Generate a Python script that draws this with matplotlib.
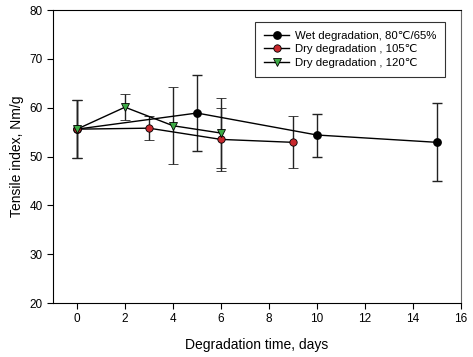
import matplotlib.pyplot as plt

plt.rcParams['font.family'] = ['Liberation Sans', 'DejaVu Sans']

# data
wet_days = [0, 5, 10, 15]
wet_val = [55.6, 58.9, 54.4, 52.9]
wet_err = [5.9, 7.7, 4.4, 8.0]

dry105_days = [0, 3, 6, 9]
dry105_val = [55.6, 55.8, 53.5, 52.9]
dry105_err = [5.9, 2.4, 6.4, 5.3]

dry120_days = [0, 2, 4, 6]
dry120_val = [55.6, 60.1, 56.3, 54.8]
dry120_err = [5.9, 2.6, 7.9, 7.2]

fig = plt.figure(figsize=(4.73, 3.57), dpi=100)
ax = fig.add_axes([53 / 473, 54 / 357, 408 / 473, 293 / 357])

e1 = ax.errorbar(wet_days, wet_val, yerr=wet_err, color='black', marker='o', ms=5.3,
                 mfc='black', mec='black', lw=1, capsize=3.5, elinewidth=1, ecolor='#222222')
e2 = ax.errorbar(dry105_days, dry105_val, yerr=dry105_err, color='black', marker='o', ms=5.3,
                 mfc='#c8282d', mec='black', mew=0.6, lw=1, capsize=3.5, elinewidth=1,
                 ecolor='#222222')
e3 = ax.errorbar(dry120_days, dry120_val, yerr=dry120_err, color='black', marker='v', ms=5.8,
                 mfc='#3daa45', mec='black', mew=0.6, lw=1, capsize=3.5, elinewidth=1,
                 ecolor='#222222')

ax.set_xlim(-1, 16)
ax.set_ylim(20, 80)
ax.set_xticks(range(0, 17, 2))
ax.set_yticks(range(20, 81, 10))
ax.tick_params(direction='out', length=4, labelsize=8.5)
ax.set_xlabel('Degradation time, days', fontsize=10, labelpad=9)
ax.set_ylabel('Tensile index, Nm/g', fontsize=10)
ax.spines['right'].set_color('#666666')

leg = ax.legend([e1[0], e2[0], e3[0]],
                ['Wet degradation, 80\u2103/65%', 'Dry degradation , 105\u2103',
                 'Dry degradation , 120\u2103'],
                loc='upper right', bbox_to_anchor=(0.962, 0.96), borderaxespad=0,
                fontsize=8.2, fancybox=False, edgecolor='black', handlelength=2.2,
                borderpad=0.8, labelspacing=0.3, handletextpad=0.5)
leg.get_frame().set_linewidth(0.8)

fig.savefig('out.png', dpi=100)
